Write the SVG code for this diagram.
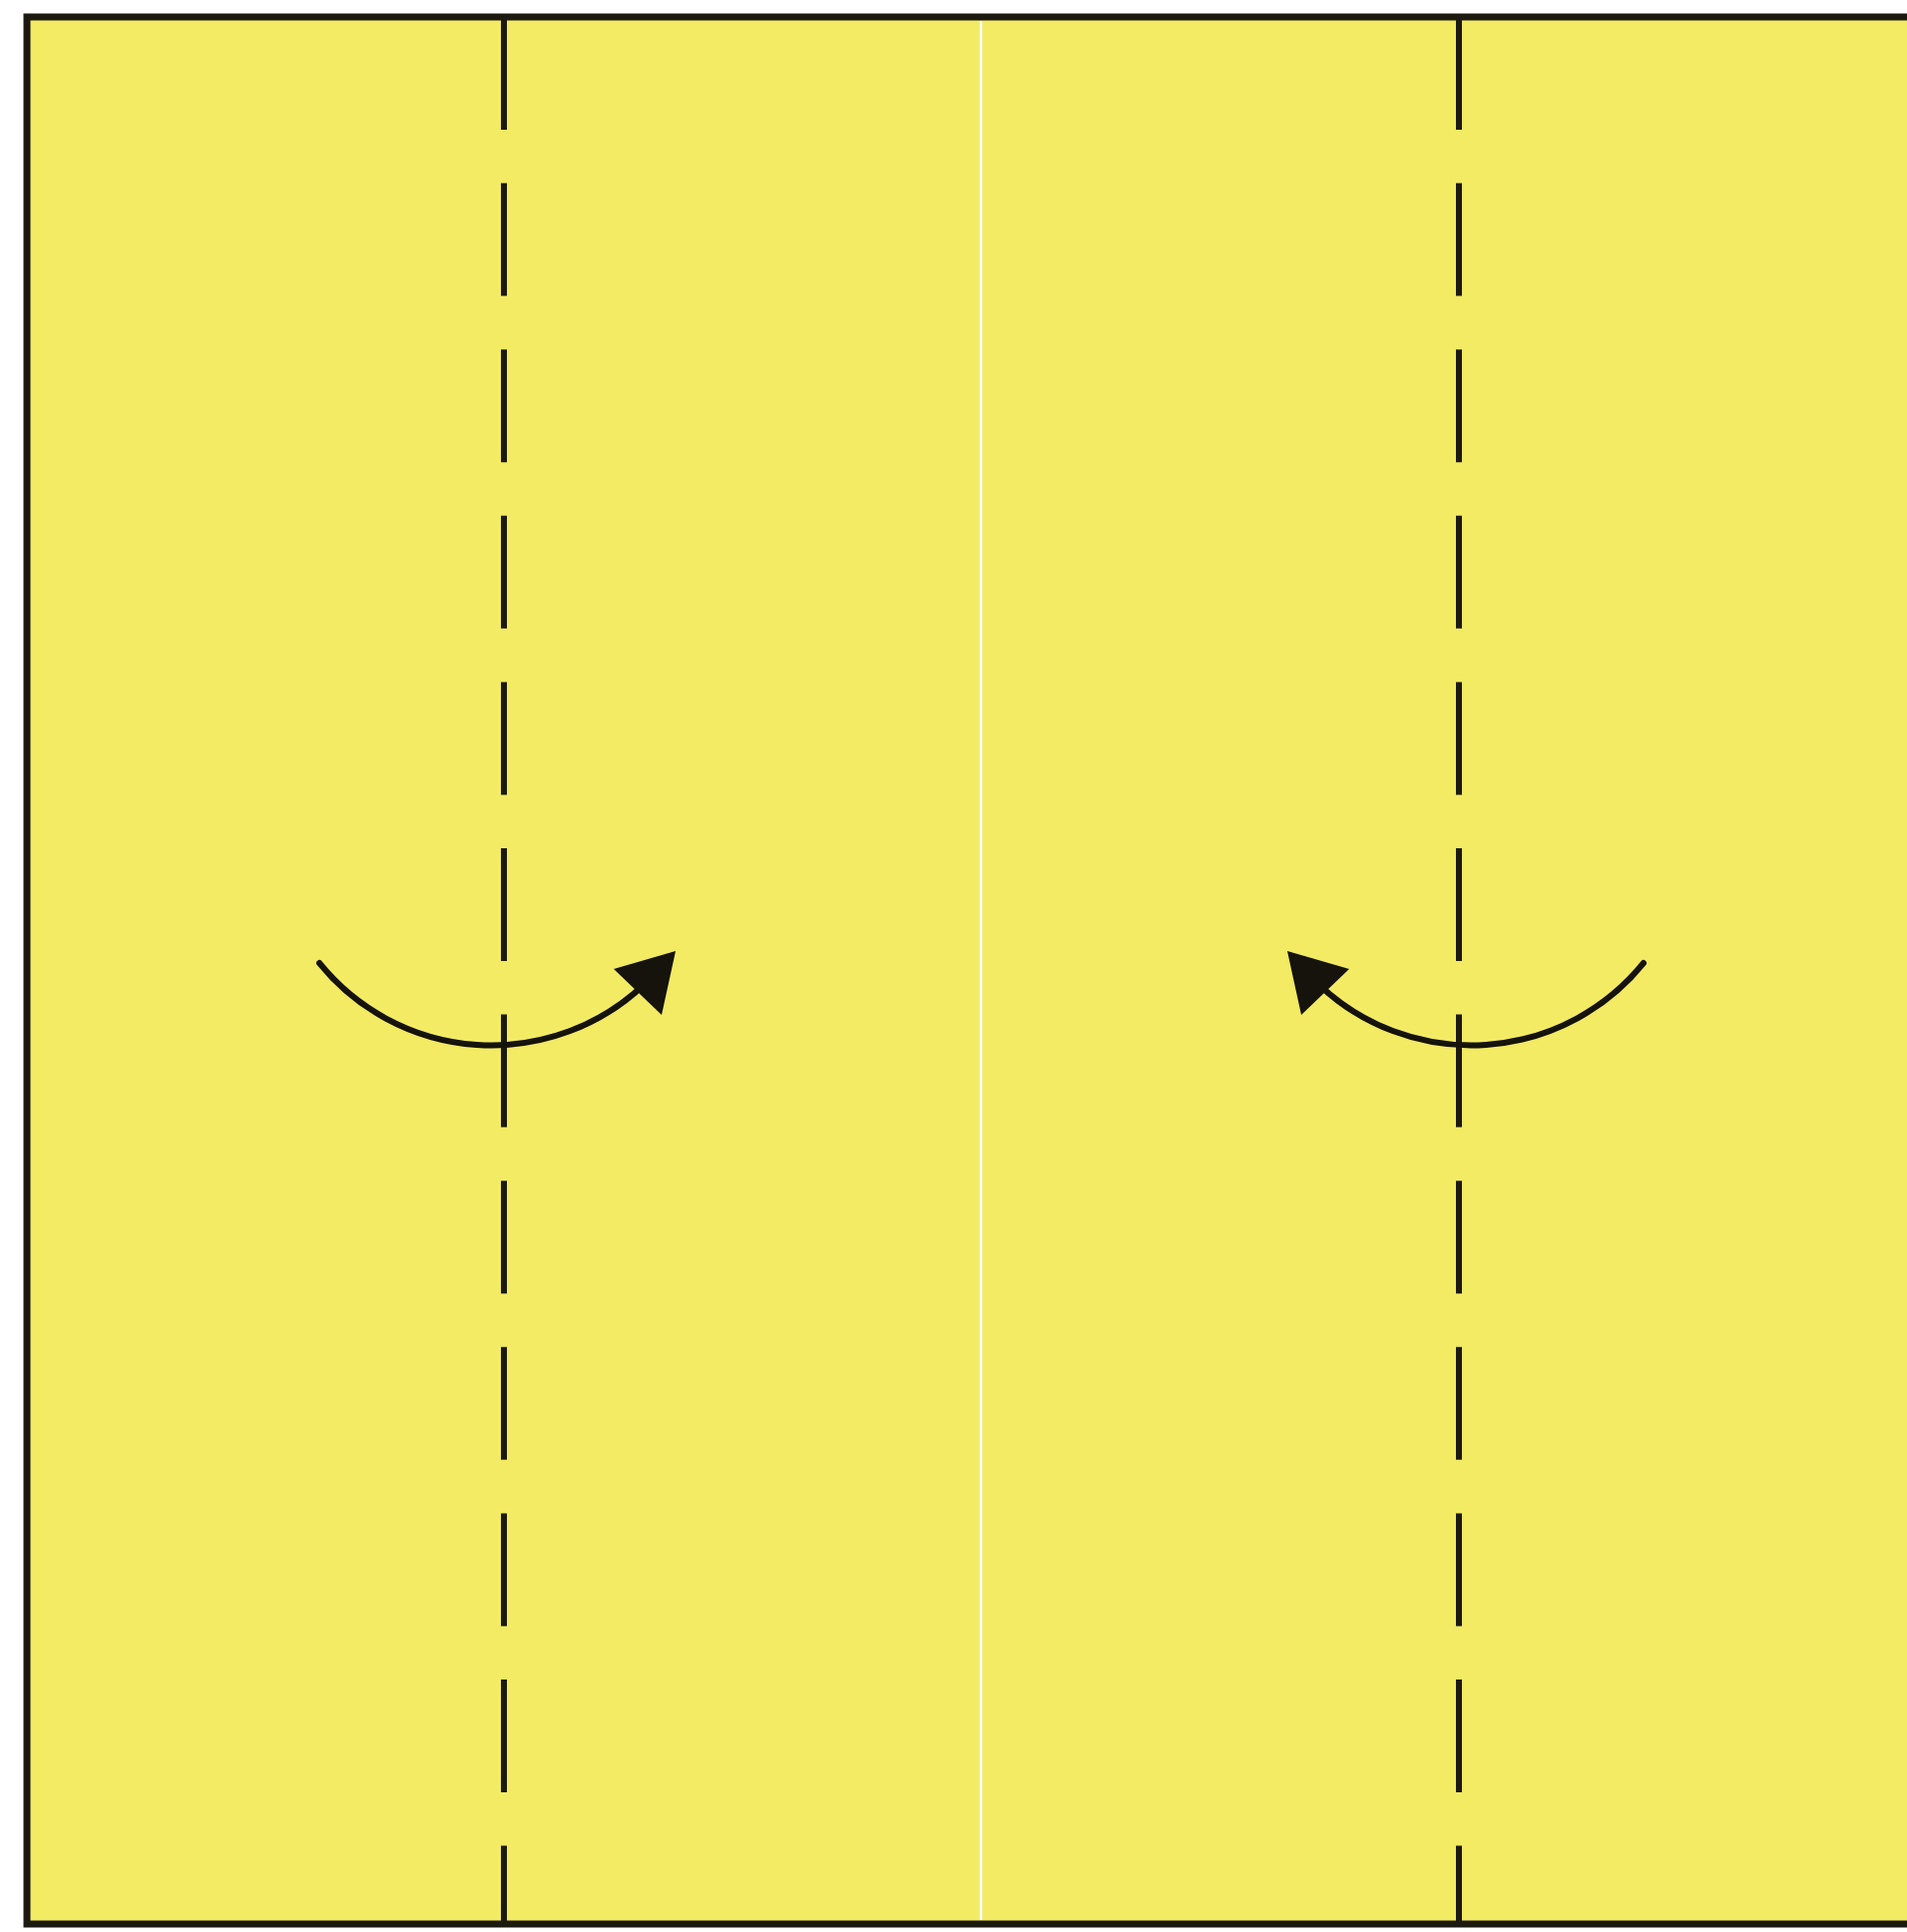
<svg xmlns="http://www.w3.org/2000/svg" width="1911" height="1936" viewBox="0 0 1911 1936">
<style>
.paper{fill:#f3eb64;stroke:#1c1a10;stroke-width:7}
.valley{stroke:#1c1a10;stroke-width:6;stroke-dasharray:113 53.6;fill:none}
.center{stroke:#ffffff;stroke-width:2.5}
.arc{fill:none;stroke:#15130c;stroke-width:6;stroke-linecap:round}
.head{fill:#15130c}
</style>
<rect width="1911" height="1936" fill="#ffffff"/>
<g id="paper">
<rect class="paper" x="27" y="17" width="1911" height="1911"/>
<line class="center" x1="983" y1="21" x2="983" y2="1924"/>
</g>
<g id="creases">
<line class="valley" x1="505" y1="17" x2="505" y2="1928"/>
<line class="valley" x1="1462" y1="17" x2="1462" y2="1928"/>
</g>
<g id="connectors">
<g id="arrow-left">
<path class="arc" d="M320,965 A222,222 0 0 0 645,987"/>
<polygon class="head" points="677,953 615,971 663,1017"/>
</g>
<g id="arrow-right">
<path class="arc" d="M1647,965 A222,222 0 0 1 1322,987"/>
<polygon class="head" points="1290,953 1352,971 1304,1017"/>
</g>
</g>
</svg>
